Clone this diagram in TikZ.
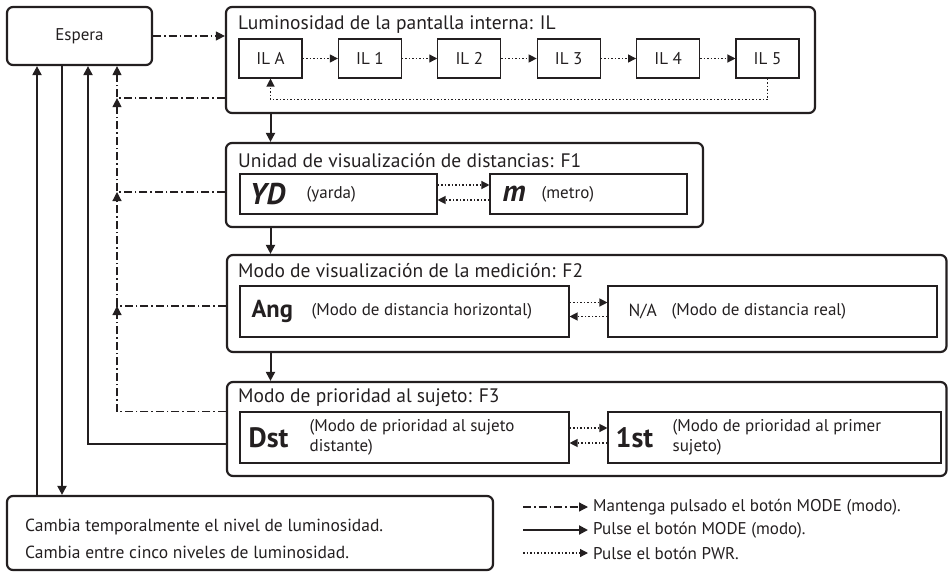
\documentclass[tikz,border=0pt]{standalone}
\usepackage{fontspec}
\setmainfont{PT Sans}
\usetikzlibrary{arrows.meta,calc}
\definecolor{inkBlack}{HTML}{231F20}

\tikzset{
  groupbox/.style={draw=inkBlack, line width=2.2pt, rounded corners=6pt},
  itembox/.style={draw=inkBlack, line width=1.1pt},
  titletext/.style={anchor=west, inner sep=0pt, font=\fontsize{19.5}{22}\selectfont},
  symtext/.style={anchor=west, inner sep=0pt, font=\fontsize{28}{30}\selectfont\bfseries},
  notetext/.style={anchor=west, inner sep=0pt, align=left, font=\fontsize{17}{20}\selectfont},
  legtext/.style={anchor=west, inner sep=0pt, font=\fontsize{17}{20}\selectfont},
  holdline/.style={draw=inkBlack, line width=1.2pt, dash pattern=on 8pt off 3pt on 1.5pt off 3pt,
    -{Triangle[length=9pt,width=9pt]}},
  pressline/.style={draw=inkBlack, line width=2pt, -{Triangle[length=9pt,width=9pt]}},
  pwrline/.style={draw=inkBlack, line width=1.2pt, dash pattern=on 1.5pt off 2pt,
    -{Triangle[length=8pt,width=8pt]}}
}

\begin{document}
\begin{tikzpicture}[x=1pt, y=-1pt, text=inkBlack, font=\fontsize{17}{20}\selectfont]
  \useasboundingbox (0,0) rectangle (949,572);

  % Standby
  \node[groupbox, minimum width=145pt, minimum height=58pt] (espera) at (79.5,36) {Espera};

  % IL group
  \node[groupbox, minimum width=589pt, minimum height=106pt] (ilgrp) at (520.5,60) {};
  \node[titletext] (iltitle) at (238,25) {Luminosidad de la pantalla interna: IL};
  \foreach \n [count=\i from 0] in {A,1,2,3,4,5}
    \node[itembox, minimum width=63pt, minimum height=39pt] (il\n) at (270.5+99.4*\i,58.5) {IL \n};
  \foreach \a/\b in {A/1,1/2,2/3,3/4,4/5}
    \draw[pwrline] (il\a) -- (il\b);
  \draw[pwrline] (il5.south) -- ++(0,21) -| (ilA.south);

  % F1 group
  \node[groupbox, minimum width=477pt, minimum height=84pt] (fonegrp) at (464.5,185) {};
  \node[titletext] (fonetitle) at (238,161) {Unidad de visualización de distancias: F1};
  \node[itembox, minimum width=197pt, minimum height=40pt] (yd) at (338.5,194) {};
  \node[symtext, font=\fontsize{30}{32}\selectfont\bfseries\itshape] (ydsym) at ([xshift=10pt]yd.west) {YD};
  \node[notetext] (ydnote) at ([xshift=67pt]yd.west) {(yarda)};
  \node[itembox, minimum width=197pt, minimum height=40pt] (mbox) at (588.5,194) {};
  \node[symtext, font=\fontsize{30}{32}\selectfont\bfseries\itshape] (msym) at ([xshift=13pt]mbox.west) {m};
  \node[notetext] (mnote) at ([xshift=52pt]mbox.west) {(metro)};
  \draw[pwrline] ([yshift=9pt]yd.east) -- ([yshift=9pt]mbox.west);
  \draw[pwrline] ([yshift=-6pt]mbox.west) -- ([yshift=-6pt]yd.east);

  % F2 group
  \node[groupbox, minimum width=719.5pt, minimum height=97pt] (ftwogrp) at (586.75,303.5) {};
  \node[titletext] (ftwotitle) at (238,271) {Modo de visualización de la medición: F2};
  \node[itembox, minimum width=329pt, minimum height=51pt] (ang) at (404.5,311.5) {};
  \node[symtext, font=\fontsize{24.5}{27}\selectfont\bfseries] (angsym) at ([xshift=12pt]ang.west) {Ang};
  \node[notetext] (angnote) at ([xshift=72pt]ang.west) {(Modo de distancia horizontal)};
  \node[itembox, minimum width=329pt, minimum height=51pt] (real) at (772.5,311.5) {};
  \node[legtext, font=\fontsize{17.5}{20}\selectfont] (realsym) at ([xshift=21pt]real.west) {N/A};
  \node[notetext] (realnote) at ([xshift=64pt]real.west) {(Modo de distancia real)};
  \draw[pwrline] ([yshift=9pt]ang.east) -- ([yshift=9pt]real.west);
  \draw[pwrline] ([yshift=-5pt]real.west) -- ([yshift=-5pt]ang.east);

  % F3 group
  \node[groupbox, minimum width=719.5pt, minimum height=94pt] (fthreegrp) at (586.75,429) {};
  \node[titletext] (fthreetitle) at (238,398) {Modo de prioridad al sujeto: F3};
  \node[itembox, minimum width=329pt, minimum height=51pt] (dst) at (404.5,437.5) {};
  \node[symtext] (dstsym) at ([xshift=9pt]dst.west) {Dst};
  \node[notetext] (dstnote) at ([xshift=70pt]dst.west) {(Modo de prioridad al sujeto\\distante)};
  \node[itembox, minimum width=333pt, minimum height=51pt] (first) at (774.5,437.5) {};
  \node[symtext] (firstsym) at ([xshift=8pt]first.west) {1st};
  \node[notetext] (firstnote) at ([xshift=65pt]first.west) {(Modo de prioridad al primer\\sujeto)};
  \draw[pwrline] ([yshift=9.5pt]dst.east) -- ([yshift=9.5pt]first.west);
  \draw[pwrline] ([yshift=-5.5pt]first.west) -- ([yshift=-5.5pt]dst.east);

  % Brightness box
  \node[groupbox, minimum width=486pt, minimum height=74pt] (bright) at (250,533) {};
  \node[notetext, font=\fontsize{17.5}{27}\selectfont] (brighttext) at (25,538.5)
    {Cambia temporalmente el nivel de luminosidad.\\Cambia entre cinco niveles de luminosidad.};

  % MODE press between groups
  \draw[pressline] (ilgrp.south -| ilA) -- (fonegrp.north -| ilA);
  \draw[pressline] (fonegrp.south -| ilA) -- (ftwogrp.north -| ilA);
  \draw[pressline] (ftwogrp.south -| ilA) -- (fthreegrp.north -| ilA);

  % Return lanes
  \coordinate (laneA) at (37,0);
  \coordinate (laneB) at (62,0);
  \coordinate (laneC) at (88,0);
  \coordinate (laneD) at (117,0);
  \draw[pressline] (bright.north -| laneA) -- (espera.south -| laneA);
  \draw[pressline] (espera.south -| laneB) -- (bright.north -| laneB);
  \coordinate (fthreepress) at ($(fthreegrp.west |- dst)+(0,6)$);
  \draw[pressline] (fthreepress) -| (espera.south -| laneC);

  \coordinate (ilhold) at ([yshift=16pt]ilgrp.south west);
  \coordinate (fonehold) at ([yshift=-7pt]fonegrp.west);
  \coordinate (ftwohold) at ([yshift=-2.5pt]ftwogrp.west);
  \coordinate (fthreehold) at (fthreegrp.west |- dst.north);
  \draw[holdline] (espera.east) -- (espera.east -| ilgrp.west);
  \draw[holdline] (ilhold) -| (espera.south -| laneD);
  \draw[holdline] (fonehold) -| (ilhold -| laneD);
  \draw[holdline] (ftwohold) -| (fonehold -| laneD);
  \draw[holdline] (fthreehold) -| (ftwohold -| laneD);

  % Legend
  \node[legtext] (keyhold) at (593,507) {Mantenga pulsado el botón MODE (modo).};
  \node[legtext] (keypress) at (593,530) {Pulse el botón MODE (modo).};
  \node[legtext] (keypwr) at (593,553) {Pulse el botón PWR.};
  \draw[holdline] ([xshift=-70pt]keyhold.west) -- ([xshift=-5pt]keyhold.west);
  \draw[pressline] ([xshift=-70pt]keypress.west) -- ([xshift=-5pt]keypress.west);
  \draw[pwrline] ([xshift=-70pt]keypwr.west) -- ([xshift=-5pt]keypwr.west);
\end{tikzpicture}
\end{document}
